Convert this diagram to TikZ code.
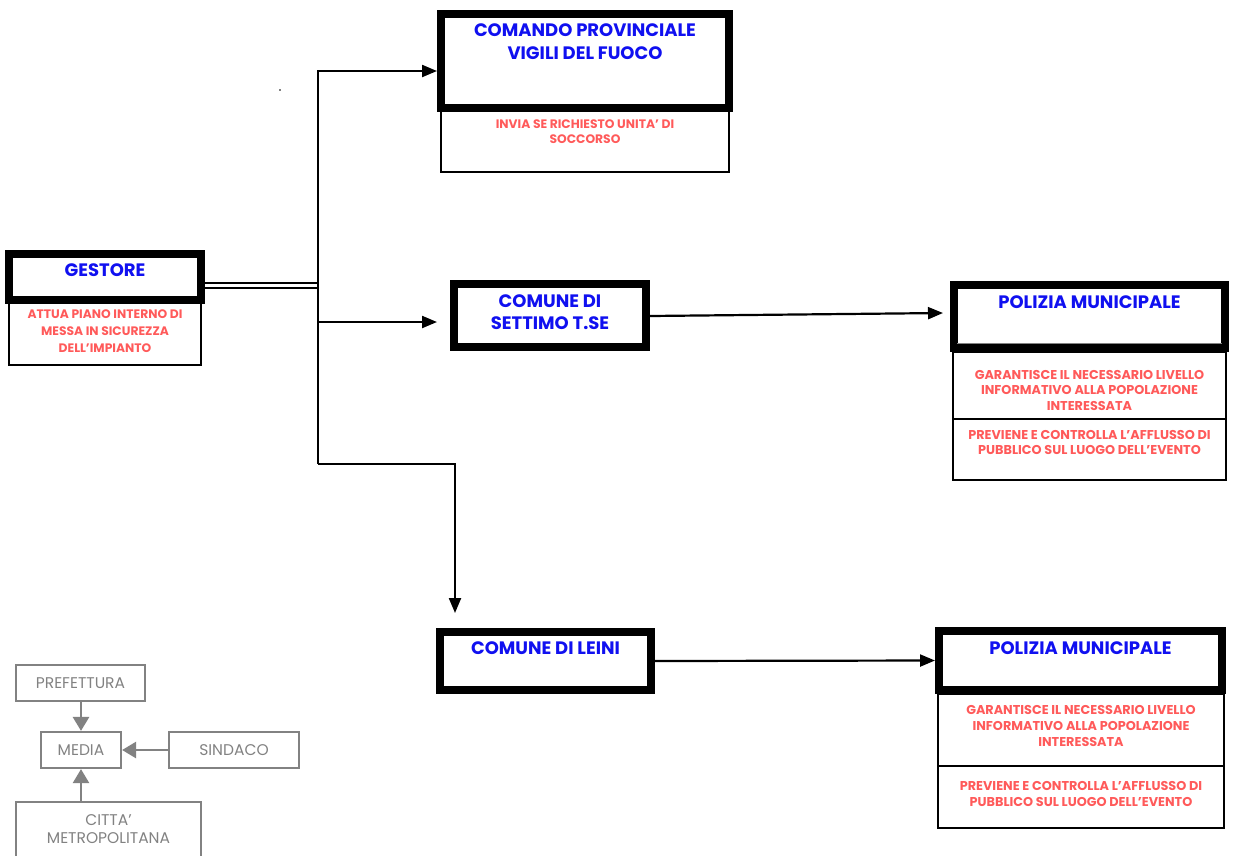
\documentclass[tikz,border=0pt]{standalone}
\usepackage{fontspec}
\setmainfont{Poppins}
\usetikzlibrary{arrows.meta}
\definecolor{tblue}{HTML}{1010F0}
\definecolor{tred}{HTML}{FF5A5A}
\definecolor{tgrey}{HTML}{828282}
\tikzset{
  thickbox/.style={draw=black, line width=8pt, fill=white, inner sep=0pt},
  thinbox/.style={draw=black, line width=1.6pt, fill=white, inner sep=0pt},
  greybox/.style={draw=tgrey, line width=2.2pt, fill=white, inner sep=0pt},
  bluetxt/.style={text=tblue, font=\bfseries\fontsize{18}{23}\selectfont, align=center, inner sep=0pt},
  redtxt/.style={text=tred, font=\bfseries\fontsize{12.8}{15.5}\selectfont, align=center, inner sep=0pt},
  greytxt/.style={text=tgrey, font=\fontsize{15.5}{18}\selectfont, align=center, inner sep=0pt},
  arr/.style={draw=black, line width=2.2pt, -{Triangle[length=15pt,width=12pt]}},
  garr/.style={draw=tgrey, line width=2.6pt, -{Triangle[length=14pt,width=16pt]}},
}
\begin{document}
\begin{tikzpicture}[x=1pt,y=-1pt]
\useasboundingbox[fill=white] (0,0) rectangle (1234,855);

% GESTORE
\node[thinbox, minimum width=192pt, minimum height=65pt] (gsub) at (105,332.5) {};
\node[thickbox, minimum width=192pt, minimum height=46pt] (gest) at (105,277) {};
\node[bluetxt] (gestt) at (105,270) {GESTORE};
\node[redtxt, font=\bfseries\fontsize{12.3}{17}\selectfont] (gsubt) at (105,331) {ATTUA PIANO INTERNO DI\\MESSA IN SICUREZZA\\DELL'IMPIANTO};

% COMANDO PROVINCIALE
\node[thinbox, minimum width=288pt, minimum height=64pt] (csub) at (585,140) {};
\node[thickbox, minimum width=288pt, minimum height=94pt] (cpvf) at (585,61) {};
\node[bluetxt] (cpvft) at (585,41.5) {COMANDO PROVINCIALE\\VIGILI DEL FUOCO};
\node[redtxt, font=\bfseries\fontsize{12.3}{15}\selectfont] (csubt) at (585,131.5) {INVIA SE RICHIESTO UNITA' DI\\SOCCORSO};

% COMUNE DI SETTIMO
\node[thickbox, minimum width=192pt, minimum height=63pt] (sett) at (550,315.5) {};
\node[bluetxt, font=\bfseries\fontsize{18}{22}\selectfont] (settt) at (550,312) {COMUNE DI\\SETTIMO T.SE};

% POLIZIA MUNICIPALE 1
\node[thinbox, minimum width=273pt, minimum height=67pt] (p1a) at (1089.5,385.5) {};
\node[thinbox, minimum width=273pt, minimum height=61pt] (p1b) at (1089.5,449.5) {};
\node[thickbox, minimum width=271pt, minimum height=63pt] (pm1) at (1089.5,316.5) {};
\draw[tgrey, line width=0.8pt] (957,343.5) -- (1222,343.5);
\node[bluetxt] (pm1t) at (1089.5,302) {POLIZIA MUNICIPALE};
\node[redtxt] (p1at) at (1089.5,390) {GARANTISCE IL NECESSARIO LIVELLO\\INFORMATIVO ALLA POPOLAZIONE\\INTERESSATA};
\node[redtxt] (p1bt) at (1089.5,442.5) {PREVIENE E CONTROLLA L'AFFLUSSO DI\\PUBBLICO SUL LUOGO DELL'EVENTO};

% COMUNE DI LEINI
\node[thickbox, minimum width=211pt, minimum height=58pt] (lein) at (545.5,661) {};
\node[bluetxt] (leint) at (545.5,648) {COMUNE DI LEINI};

% POLIZIA MUNICIPALE 2
\node[thinbox, minimum width=286pt, minimum height=72pt] (p2a) at (1081,730) {};
\node[thinbox, minimum width=286pt, minimum height=62pt] (p2b) at (1081,797) {};
\node[thickbox, minimum width=283pt, minimum height=59pt] (pm2) at (1080.5,660.5) {};
\node[bluetxt] (pm2t) at (1080.5,648) {POLIZIA MUNICIPALE};
\node[redtxt, font=\bfseries\fontsize{12.8}{16}\selectfont] (p2at) at (1081,726) {GARANTISCE IL NECESSARIO LIVELLO\\INFORMATIVO ALLA POPOLAZIONE\\INTERESSATA};
\node[redtxt, font=\bfseries\fontsize{12.8}{16}\selectfont] (p2bt) at (1081,794) {PREVIENE E CONTROLLA L'AFFLUSSO DI\\PUBBLICO SUL LUOGO DELL'EVENTO};

% connectors
\coordinate (j) at (318,285.5);
\coordinate (jmid) at (318,322);
\coordinate (jbot) at (318,464);
\coordinate (sin) at (437,322);
\coordinate (lin) at (455,613);
\coordinate (pin) at (943,313);
\coordinate (sout) at (650,316);
\draw[black, line width=1.4pt, double=white, double distance=3.6pt] (gest.east |- j) -- (j);
\draw[arr] (j) |- ([yshift=-10pt]cpvf.west);
\draw[black, line width=2.2pt] (j) -- (jbot);
\draw[arr] (jmid) -- (sin);
\draw[arr] (jbot) -| (lin);
\draw[arr] (sout) -- (pin);
\draw[arr] (lein.east) -- (pm2.west);

\fill[black] (280,90) circle (0.9pt);

% legend
\node[greybox, minimum width=129pt, minimum height=36pt] (pref) at (80.5,683) {};
\node[greytxt] (preft) at (80.5,683) {PREFETTURA};
\node[greybox, minimum width=80pt, minimum height=36pt] (media) at (81,750) {};
\node[greytxt] (mediat) at (81,750) {MEDIA};
\node[greybox, minimum width=130pt, minimum height=36pt] (sind) at (234,750) {};
\node[greytxt] (sindt) at (234,750) {SINDACO};
\node[greybox, minimum width=185pt, minimum height=56pt] (citta) at (108.5,830) {};
\node[greytxt] (cittat) at (108.5,829) {CITTA'\\METROPOLITANA};
\draw[garr] (pref.south -| media.north) -- (media.north);
\draw[garr] (sind.west) -- (media.east);
\draw[garr] (citta.north -| media.south) -- (media.south);
\end{tikzpicture}
\end{document}
